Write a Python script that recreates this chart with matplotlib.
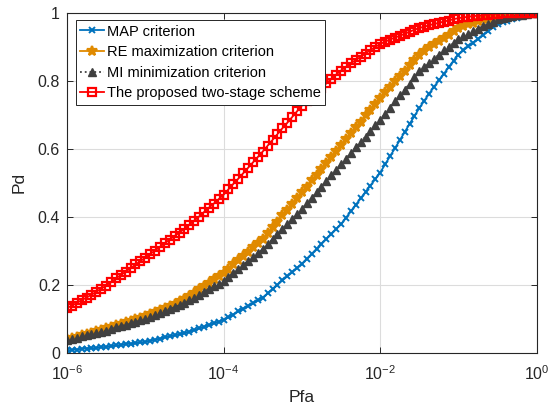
import numpy as np
import matplotlib
matplotlib.use("Agg")
import matplotlib.pyplot as plt

plt.rcParams['font.family'] = ['Liberation Sans', 'DejaVu Sans']
plt.rcParams['mathtext.fontset'] = 'custom'
plt.rcParams['mathtext.rm'] = 'Liberation Sans'

# Pfa sampled on 97 log-spaced points between 1e-6 and 1
pfa = np.logspace(-6, 0, 97)

# Pd values, 1/16 decade apart
pd_map = [
    0.008, 0.009, 0.010, 0.012, 0.013, 0.014, 0.015, 0.017,
    0.018, 0.020, 0.022, 0.024, 0.026, 0.027, 0.029, 0.031,
    0.033, 0.036, 0.039, 0.042, 0.046, 0.049, 0.052, 0.055,
    0.058, 0.063, 0.067, 0.072, 0.077, 0.082, 0.087, 0.092,
    0.097, 0.105, 0.113, 0.122, 0.130, 0.138, 0.146, 0.155,
    0.163, 0.175, 0.188, 0.200, 0.213, 0.225, 0.237, 0.250,
    0.262, 0.277, 0.291, 0.306, 0.320, 0.335, 0.349, 0.364,
    0.378, 0.397, 0.416, 0.435, 0.454, 0.473, 0.492, 0.511,
    0.530, 0.554, 0.578, 0.601, 0.625, 0.649, 0.673, 0.696,
    0.720, 0.741, 0.762, 0.782, 0.801, 0.820, 0.840, 0.859,
    0.877, 0.889, 0.901, 0.912, 0.923, 0.934, 0.945, 0.957,
    0.968, 0.973, 0.977, 0.981, 0.985, 0.989, 0.993, 0.997,
    1.000,
]
pd_re = [
    0.040, 0.044, 0.048, 0.052, 0.056, 0.060, 0.064, 0.068,
    0.072, 0.076, 0.081, 0.085, 0.090, 0.094, 0.099, 0.103,
    0.108, 0.114, 0.120, 0.127, 0.133, 0.139, 0.145, 0.152,
    0.158, 0.168, 0.177, 0.187, 0.197, 0.206, 0.216, 0.225,
    0.235, 0.247, 0.260, 0.272, 0.285, 0.297, 0.310, 0.322,
    0.335, 0.352, 0.369, 0.386, 0.404, 0.421, 0.438, 0.455,
    0.472, 0.489, 0.507, 0.524, 0.541, 0.558, 0.576, 0.593,
    0.610, 0.628, 0.645, 0.663, 0.680, 0.698, 0.715, 0.733,
    0.750, 0.766, 0.782, 0.798, 0.814, 0.829, 0.845, 0.861,
    0.877, 0.888, 0.898, 0.908, 0.917, 0.926, 0.935, 0.945,
    0.955, 0.961, 0.966, 0.971, 0.976, 0.981, 0.985, 0.989,
    0.993, 0.994, 0.995, 0.996, 0.997, 0.998, 0.999, 1.000,
    1.000,
]
pd_mi = [
    0.038, 0.042, 0.045, 0.049, 0.052, 0.056, 0.059, 0.063,
    0.066, 0.070, 0.075, 0.079, 0.083, 0.087, 0.092, 0.096,
    0.100, 0.106, 0.112, 0.118, 0.124, 0.129, 0.135, 0.141,
    0.147, 0.155, 0.163, 0.171, 0.180, 0.188, 0.196, 0.204,
    0.212, 0.224, 0.235, 0.247, 0.259, 0.270, 0.282, 0.293,
    0.305, 0.320, 0.334, 0.349, 0.364, 0.379, 0.393, 0.408,
    0.423, 0.440, 0.456, 0.473, 0.489, 0.506, 0.522, 0.539,
    0.555, 0.571, 0.588, 0.604, 0.620, 0.636, 0.653, 0.669,
    0.685, 0.703, 0.721, 0.739, 0.757, 0.774, 0.791, 0.810,
    0.828, 0.841, 0.853, 0.865, 0.877, 0.889, 0.900, 0.911,
    0.922, 0.930, 0.938, 0.946, 0.953, 0.960, 0.967, 0.974,
    0.980, 0.983, 0.986, 0.989, 0.992, 0.994, 0.997, 0.999,
    1.000,
]
pd_two_stage = [
    0.132, 0.139, 0.147, 0.155, 0.163, 0.171, 0.180, 0.189,
    0.198, 0.208, 0.219, 0.229, 0.239, 0.249, 0.260, 0.270,
    0.280, 0.291, 0.301, 0.312, 0.323, 0.333, 0.344, 0.354,
    0.365, 0.377, 0.389, 0.401, 0.414, 0.427, 0.439, 0.452,
    0.465, 0.481, 0.497, 0.512, 0.528, 0.544, 0.560, 0.576,
    0.592, 0.609, 0.626, 0.643, 0.660, 0.676, 0.693, 0.710,
    0.727, 0.741, 0.754, 0.767, 0.780, 0.792, 0.805, 0.818,
    0.830, 0.841, 0.851, 0.861, 0.870, 0.880, 0.890, 0.899,
    0.908, 0.915, 0.921, 0.927, 0.932, 0.938, 0.944, 0.950,
    0.955, 0.959, 0.963, 0.967, 0.970, 0.974, 0.977, 0.981,
    0.984, 0.986, 0.988, 0.990, 0.991, 0.993, 0.994, 0.996,
    0.997, 0.998, 0.998, 0.999, 0.999, 0.999, 1.000, 1.000,
    1.000,
]

labels = ['MAP criterion', 'RE maximization criterion',
          'MI minimization criterion', 'The proposed two-stage scheme']

fig = plt.figure(figsize=(5.58, 4.09), dpi=100)
ax = fig.add_axes([0.120, 0.137, 0.842, 0.832])

ax.semilogx(pfa, pd_map, '-', color='#0072BD', lw=1.3, marker='x',
            ms=5, mew=1.4, label=labels[0])
ax.semilogx(pfa, pd_re, '-', color='#E08A00', lw=1.3, marker='*',
            ms=7, mew=1.6, label=labels[1])
ax.semilogx(pfa, pd_mi, ':', color='#404040', lw=1.3, marker='^',
            ms=6, mew=1.0, label=labels[2])
ax.semilogx(pfa, pd_two_stage, '-', color='#FF0000', lw=1.3, marker='s',
            ms=5.5, mew=1.6, mfc='none', label=labels[3])

ax.set_xlim(1e-6, 1)
ax.set_ylim(0, 1)
ax.set_xticks([1e-6, 1e-4, 1e-2, 1])
ax.xaxis.set_minor_locator(matplotlib.ticker.NullLocator())
ax.set_yticks([0, 0.2, 0.4, 0.6, 0.8, 1])
ax.set_yticklabels(['0', '0.2', '0.4', '0.6', '0.8', '1'])

ax.grid(True, color='#dcdcdc', lw=0.8)
ax.set_axisbelow(True)
ax.tick_params(direction='in', top=True, right=True, labelsize=11.5,
               length=4, width=0.7, colors='#262626')
ax.tick_params(axis='x', pad=8)
ax.tick_params(axis='y', pad=5)
for s in ax.spines.values():
    s.set_color('#262626')
    s.set_linewidth(0.8)

ax.set_xlabel('Pfa', fontsize=12.5, color='#262626', labelpad=5)
ax.set_ylabel('Pd', fontsize=12.5, color='#262626', labelpad=8)

leg = ax.legend(loc='upper left', bbox_to_anchor=(0.019, 0.978),
                borderaxespad=0, fontsize=10.5, fancybox=False,
                framealpha=1, edgecolor='#262626', handlelength=1.6,
                handletextpad=0.2, labelspacing=0.45, borderpad=0.3)
leg.get_frame().set_linewidth(0.7)

fig.savefig('out.png', dpi=100)
